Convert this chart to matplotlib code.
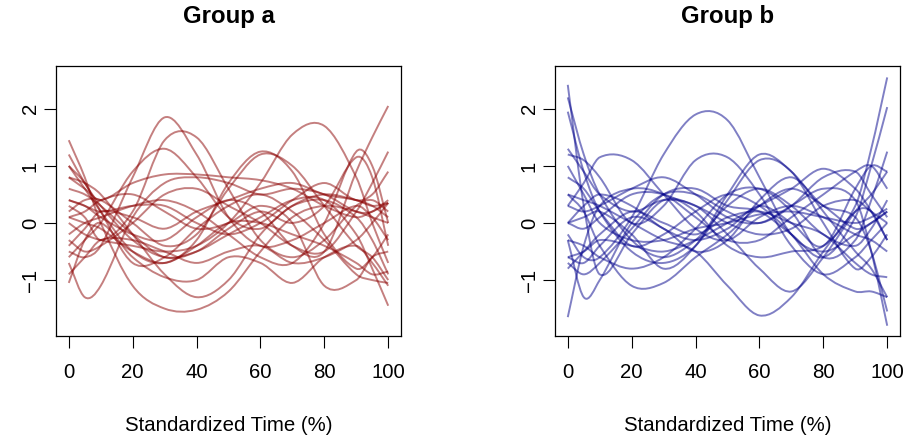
import numpy as np
import matplotlib.pyplot as plt
from matplotlib.path import Path
from matplotlib.patches import PathPatch

plt.rcParams['font.family'] = ['Liberation Sans', 'DejaVu Sans']

# standardized time knots (%)
time_knots = [0, 5, 10, 20, 30, 40, 50, 60, 70, 80, 90, 95, 100]

group_a = [
    [-0.5, -0.6, -0.4, 0.8, 1.85, 1.2, 0.1, -0.4, -0.3, 0.0, 0.3, 0.1, -0.3],
    [0.3, 0.1, -0.3, 0.2, 1.45, 1.5, 0.6, -0.3, -0.6, -0.3, 0.3, 0.4, 0.2],
    [-0.6, -0.3, 0.0, 0.9, 1.3, 0.8, 0.1, -0.1, 0.3, 0.4, 0.1, -0.3, -0.9],
    [1.0, 0.6, 0.2, -0.5, -0.7, -0.3, 0.7, 1.25, 0.9, -0.2, -0.8, -0.6, -0.2],
    [0.2, 0.4, 0.4, 0.0, -0.4, -0.2, 0.6, 1.2, 1.0, 0.3, -0.4, -0.6, -1.0],
    [0.0, -0.2, -0.3, -0.4, -0.5, -0.4, 0.0, 0.7, 1.55, 1.7, 0.8, 0.0, -0.7],
    [0.4, 0.3, 0.1, -0.2, -0.3, 0.1, 0.4, 0.2, -0.4, -0.5, 0.9, 1.5, 2.05],
    [-0.2, 0.0, 0.1, 0.3, 0.4, 0.2, -0.2, -0.6, -0.7, 0.0, 1.25, 1.0, 0.0],
    [-0.3, -0.5, -0.4, 0.0, 0.5, 0.6, 0.3, 0.0, -0.4, -0.5, 0.2, 0.7, 1.25],
    [0.6, 0.5, 0.3, -0.2, -0.6, -0.5, -0.1, 0.2, 0.0, 0.3, 1.15, 0.8, -0.4],
    [1.45, 0.8, 0.0, -1.1, -1.5, -1.52, -1.2, -0.5, 0.1, 0.3, 0.2, 0.1, 0.0],
    [-0.7, -1.3, -1.1, 0.1, 0.7, 0.8, 0.7, 0.5, 0.6, 0.5, 0.2, 0.2, 0.4],
    [0.8, 0.7, 0.5, -0.2, -0.9, -1.3, -1.0, -0.2, 0.3, 0.5, 0.4, 0.3, 0.35],
    [0.1, 0.2, 0.4, 0.5, 0.2, -0.1, 0.0, 0.3, 0.0, -1.1, -1.0, -0.6, -0.5],
    [-1.05, -0.3, 0.0, -0.6, -0.95, -1.0, -0.6, -0.7, -1.05, -0.6, -0.4, -0.7, -1.1],
    [0.8, 0.6, 0.4, 0.7, 0.85, 0.85, 0.8, 0.75, 0.6, 0.3, 0.1, 0.2, 0.35],
    [1.2, 0.7, 0.3, -0.3, -0.6, -0.5, -0.2, 0.1, 0.4, 0.4, -0.2, -0.8, -1.45],
    [0.4, 0.3, 0.2, 0.3, 0.3, 0.0, -0.2, 0.0, 0.4, 0.7, 0.4, 0.5, 0.9],
    [-0.9, -0.6, -0.3, -0.3, -0.5, -0.7, -0.5, -0.4, -0.7, -0.6, -0.3, 0.0, 0.35],
    [0.1, 0.0, -0.1, -0.5, -0.7, -0.4, 0.0, 0.0, -0.2, -0.4, -0.7, -0.9, -0.85],
    [-0.4, -0.1, 0.2, 0.1, -0.1, 0.2, 0.4, 0.6, 0.7, 0.5, 0.4, 0.3, 0.1],
    [1.0, 0.7, 0.2, -0.7, -0.6, -0.1, 0.3, 0.5, 0.2, -0.3, -0.9, -1.0, -1.05],
]

group_b = [
    [-0.2, -0.6, -0.6, 0.1, 1.2, 1.9, 1.8, 0.8, -0.2, -0.5, -0.2, 0.0, 0.2],
    [0.5, 0.4, 0.3, 0.0, -0.3, -0.5, -1.1, -1.62, -1.3, -0.5, 0.2, 0.2, -0.3],
    [2.42, 0.3, -0.9, -0.2, 0.4, 0.3, 0.0, -0.2, -0.1, 0.3, 0.4, 0.2, 0.0],
    [2.2, 1.2, 0.5, -0.3, -0.6, -0.3, 0.3, 0.6, 0.3, -0.2, -0.4, -0.1, 0.4],
    [1.95, 0.9, 0.2, -0.5, -0.7, -0.4, 0.4, 1.1, 0.9, 0.0, -0.8, -0.6, -0.2],
    [-1.65, -0.4, 0.3, 0.6, 0.5, 0.1, -0.3, -0.3, 0.1, 0.5, 0.9, 1.0, 0.6],
    [0.0, -0.1, 0.1, 0.5, 0.5, 0.2, -0.4, -0.6, -0.5, -0.4, 0.3, 1.3, 2.55],
    [-0.7, -0.9, -0.7, -0.1, 0.5, 0.6, 0.3, 0.2, -0.2, -0.6, 0.1, 1.0, 2.03],
    [0.3, 0.2, 0.3, 0.6, 0.8, 0.5, 0.1, 0.0, 0.3, 0.6, 0.4, -0.5, -1.8],
    [-0.6, -0.7, -0.4, 0.1, -0.1, -0.5, -0.3, 0.4, 0.8, 0.3, 0.1, -0.5, -1.55],
    [-0.3, -0.4, -0.6, -0.8, -0.6, -0.1, 0.5, 0.6, 0.2, -0.6, -0.3, 0.4, 1.25],
    [0.3, 0.7, 1.15, 1.1, 0.5, -0.1, -0.3, 0.1, 0.3, 0.1, -0.2, -0.3, -0.5],
    [1.2, 1.1, 0.8, 0.0, 0.3, 1.1, 1.15, 0.5, -0.4, -0.9, -0.6, -0.3, 0.0],
    [0.0, 0.1, 0.2, -0.2, -0.8, -0.4, 0.5, 1.2, 0.9, 0.2, -0.5, -0.8, -1.3],
    [-0.3, -1.3, -1.0, 0.0, 0.5, 0.5, 0.2, 0.0, 0.3, 0.8, 0.9, 0.5, 0.1],
    [0.5, 0.2, -0.4, -1.1, -1.05, -0.6, -0.2, 0.3, 0.6, 0.3, -0.1, 0.0, 0.2],
    [1.3, 0.9, 0.5, 0.2, 0.4, 0.3, -0.2, -0.8, -1.2, -0.6, 0.2, 0.5, 0.9],
    [0.8, 0.6, 0.2, -0.4, -0.2, 0.2, 0.5, 0.3, -0.2, -0.9, -1.2, -1.2, -1.3],
    [-0.6, -0.5, -0.3, -0.4, -0.5, -0.3, 0.0, 0.3, 0.6, 0.95, 0.6, 0.2, -0.3],
    [0.0, 0.3, 0.5, 0.3, -0.1, -0.3, -0.1, 0.3, 0.0, -0.4, 0.6, 1.0, 0.9],
    [-0.8, -0.5, -0.2, 0.2, 0.0, -0.2, 0.1, 0.2, 0.0, -0.2, -0.7, -0.9, -0.95],
    [1.0, 0.5, 0.0, -0.3, -0.3, -0.1, 0.0, 0.15, 0.2, 0.1, 0.0, 0.1, 0.25],
]


def curve_path(xs, ys):
    # smooth curve through the knots, drawn as cubic bezier segments
    xs = np.asarray(xs, float)
    ys = np.asarray(ys, float)
    n = len(xs)
    m = np.empty(n)
    m[0] = (ys[1] - ys[0]) / (xs[1] - xs[0])
    m[-1] = (ys[-1] - ys[-2]) / (xs[-1] - xs[-2])
    m[1:-1] = (ys[2:] - ys[:-2]) / (xs[2:] - xs[:-2])
    verts = [(xs[0], ys[0])]
    codes = [Path.MOVETO]
    for i in range(n - 1):
        h = xs[i + 1] - xs[i]
        verts += [(xs[i] + h / 3, ys[i] + m[i] * h / 3),
                  (xs[i + 1] - h / 3, ys[i + 1] - m[i + 1] * h / 3),
                  (xs[i + 1], ys[i + 1])]
        codes += [Path.CURVE4] * 3
    return Path(verts, codes)


fig = plt.figure(figsize=(9.05, 4.36), dpi=100)
panels = [
    ('Group a', group_a, '#8B0000', [56 / 905, 100 / 436, 345 / 905, 270 / 436]),
    ('Group b', group_b, '#00008B', [555 / 905, 100 / 436, 345 / 905, 270 / 436]),
]

for title, curves, color, pos in panels:
    ax = fig.add_axes(pos)
    for ys in curves:
        ax.add_patch(PathPatch(curve_path(time_knots, ys), fill=False,
                               edgecolor=color, lw=1.4, alpha=0.5))
    ax.set_xlim(-4, 104)
    ax.set_ylim(-1.98, 2.75)
    ax.set_xticks([0, 20, 40, 60, 80, 100])
    ax.set_yticks([-1, 0, 1, 2])
    ax.set_yticklabels(['\u22121', '0', '1', '2'], rotation=90, va='center')
    ax.tick_params(axis='both', length=8.6, width=0.8, labelsize=14.7, direction='out')
    ax.tick_params(axis='x', pad=11)
    ax.tick_params(axis='y', pad=3)
    for sp in ax.spines.values():
        sp.set_linewidth(0.9)
    cx = pos[0] + pos[2] / 2
    fig.text(cx, 1 - 17 / 436, title, ha='center', va='center',
             fontsize=17.3, fontweight='bold')
    fig.text(cx, 1 - 425 / 436, 'Standardized Time (%)', ha='center', va='center',
             fontsize=14.7)

fig.savefig('out.png', dpi=100)
